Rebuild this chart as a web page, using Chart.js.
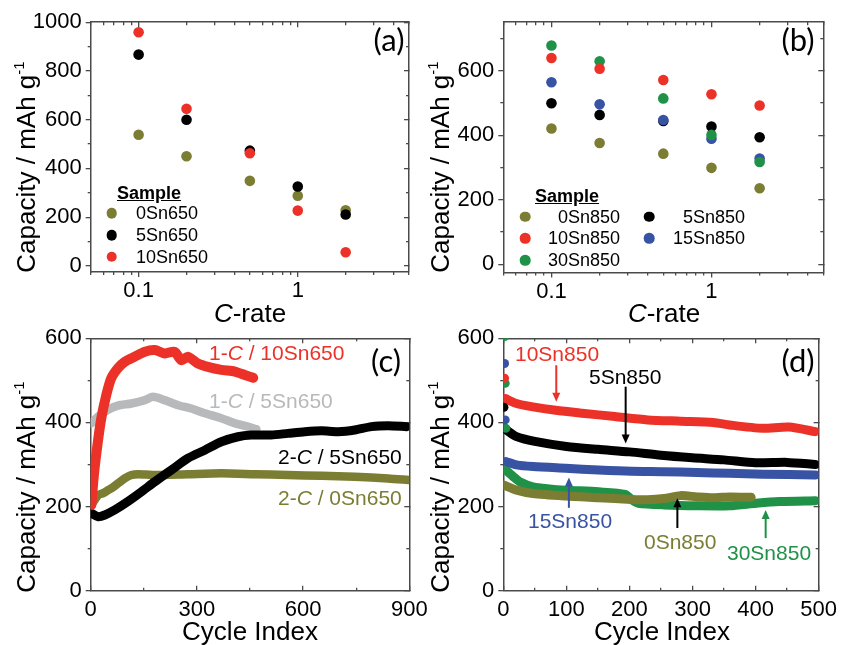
<!DOCTYPE html>
<html>
<head>
<meta charset="utf-8">
<script src="https://cdn.jsdelivr.net/npm/chart.js@4.4.1/dist/chart.umd.min.js"></script>
<style>
  body { margin: 0; background: #fff; }
  #fig { position: relative; width: 843px; height: 645px; overflow: hidden; font-family: 'Liberation Sans', Arial, sans-serif; }
  #fig canvas { position: absolute; left: 0; top: 0; }
  .t { position: absolute; white-space: nowrap; line-height: 1; }
  .ytitle { font-size: 26px; transform: translate(-50%, -50%) rotate(-90deg); }
  .ytitle sup { font-size: 15px; vertical-align: 11px; line-height: 0; }
  .xtitle { font-size: 26px; transform: translate(-50%, -50%); }
  .lab { font-family: Lato, sans-serif; font-size: 31px; transform: translate(-50%, -50%); }
  .ann { font-size: 21px; transform: translate(0, -50%); }
  .leg { font-size: 18px; transform: translate(0, -50%); }
  .legr { font-size: 18px; transform: translate(-100%, -50%); }
  .head { font-size: 18px; font-weight: bold; text-decoration: underline; transform: translate(0, -50%); }
  .dot { position: absolute; width: 10.6px; height: 10.6px; border-radius: 50%; transform: translate(-50%, -50%); }
</style>
</head>
<body>
<div id="fig">
  <canvas id="pa" width="843" height="645"></canvas>
  <canvas id="pb" width="843" height="645"></canvas>
  <canvas id="pc" width="843" height="645"></canvas>
  <canvas id="pd" width="843" height="645"></canvas>

  <!-- titulos dos eixos -->
  <div class="t ytitle" style="left:26px; top:167px;">Capacity / mAh g<sup>-1</sup></div>
  <div class="t ytitle" style="left:440px; top:167px;">Capacity / mAh g<sup>-1</sup></div>
  <div class="t ytitle" style="left:26px; top:487px;">Capacity / mAh g<sup>-1</sup></div>
  <div class="t ytitle" style="left:440px; top:487px;">Capacity / mAh g<sup>-1</sup></div>
  <div class="t xtitle" style="left:250px; top:313px;"><i>C</i>-rate</div>
  <div class="t xtitle" style="left:664px; top:313px;"><i>C</i>-rate</div>
  <div class="t xtitle" style="left:250px; top:631px;">Cycle Index</div>
  <div class="t xtitle" style="left:662px; top:631px;">Cycle Index</div>

  <!-- letras dos paineis -->
  <div class="t lab" style="left:389px; top:39px;">(a)</div>
  <div class="t lab" style="left:798px; top:39px;">(b)</div>
  <div class="t lab" style="left:386px; top:360px;">(c)</div>
  <div class="t lab" style="left:798px; top:360px;">(d)</div>

  <!-- legenda (a) -->
  <div class="t head" style="left:117px; top:193px;">Sample</div>
  <div class="dot" style="left:111.7px; top:213.3px; background:#7b7d33;"></div>
  <div class="dot" style="left:111.7px; top:235px; background:#000;"></div>
  <div class="dot" style="left:111.7px; top:256.7px; background:#ec3228;"></div>
  <div class="t leg" style="left:136px; top:213.3px;">0Sn650</div>
  <div class="t leg" style="left:136px; top:235px;">5Sn650</div>
  <div class="t leg" style="left:136px; top:256.7px;">10Sn650</div>

  <!-- legenda (b) -->
  <div class="t head" style="left:535px; top:196px;">Sample</div>
  <div class="dot" style="left:525px; top:216.7px; background:#7b7d33;"></div>
  <div class="dot" style="left:525px; top:238.3px; background:#ec3228;"></div>
  <div class="dot" style="left:525px; top:260px; background:#1f9248;"></div>
  <div class="dot" style="left:649.3px; top:216.7px; background:#000;"></div>
  <div class="dot" style="left:649.3px; top:238.3px; background:#3953a4;"></div>
  <div class="t legr" style="left:620px; top:216.7px;">0Sn850</div>
  <div class="t legr" style="left:620px; top:238.3px;">10Sn850</div>
  <div class="t legr" style="left:620px; top:260px;">30Sn850</div>
  <div class="t legr" style="left:745px; top:216.7px;">5Sn850</div>
  <div class="t legr" style="left:745px; top:238.3px;">15Sn850</div>

  <!-- rotulos (c) -->
  <div class="t ann" style="left:209px; top:352px; color:#ec3228;">1-<i>C</i> / 10Sn650</div>
  <div class="t ann" style="left:209px; top:400px; color:#b8b9bb;">1-<i>C</i> / 5Sn650</div>
  <div class="t ann" style="left:278px; top:456px; color:#000;">2-<i>C</i> / 5Sn650</div>
  <div class="t ann" style="left:278px; top:497px; color:#7b7d33;">2-<i>C</i> / 0Sn650</div>

  <!-- rotulos (d) -->
  <div class="t ann" style="left:515px; top:353px; color:#ec3228;">10Sn850</div>
  <div class="t ann" style="left:589px; top:376px; color:#000;">5Sn850</div>
  <div class="t ann" style="left:528px; top:520px; color:#3953a4;">15Sn850</div>
  <div class="t ann" style="left:644px; top:541px; color:#7b7d33;">0Sn850</div>
  <div class="t ann" style="left:727px; top:552px; color:#1f9248;">30Sn850</div>
</div>

<script>
// ---------- dados ----------
// (a) e (b): capacidade x taxa C
const cRate = [0.1, 0.2, 0.5, 1, 2];
const a0Sn650 = [538, 450, 349, 288, 228];
const a5Sn650 = [867, 600, 473, 326, 211];
const a10Sn650 = [959, 645, 462, 227, 56];

const b0Sn850 = [421, 376, 343, 299, 236];
const b5Sn850 = [499, 463, 444, 427, 394];
const b10Sn850 = [639, 606, 571, 527, 492];
const b15Sn850 = [564, 496, 447, 389, 328];
const b30Sn850 = [678, 629, 514, 401, 317];

// (c): ciclagem das amostras 650
const c10Sn650Cyc = [2, 9, 19, 30, 44, 58, 77, 96, 124, 153, 181, 209, 237, 256, 275, 303, 331, 369, 407, 435, 459];
const c10Sn650Cap = [204, 275, 346, 410, 465, 505, 529, 544, 556, 568, 572, 564, 568, 548, 556, 540, 532, 525, 521, 513, 506];
const c5Sn650aCyc = [2, 21, 49, 77, 115, 153, 176, 209, 247, 284, 322, 369, 407, 444, 468];
const c5Sn650aCap = [398, 414, 430, 440, 445, 453, 461, 453, 441, 433, 422, 410, 398, 390, 384];
const c5Sn650bCyc = [2, 21, 40, 68, 105, 143, 181, 228, 275, 322, 369, 416, 454, 510, 557, 605, 652, 699, 746, 793, 840, 892];
const c5Sn650bCap = [184, 176, 180, 192, 212, 235, 259, 287, 315, 334, 354, 366, 370, 370, 374, 378, 380, 378, 382, 390, 392, 390];
const c0Sn650Cyc = [2, 21, 35, 49, 63, 77, 96, 115, 134, 181, 275, 369, 463, 557, 652, 746, 840, 898];
const c0Sn650Cap = [204, 227, 232, 239, 246, 255, 267, 275, 277, 275, 277, 279, 277, 275, 273, 271, 267, 263];

// (d): ciclagem das amostras 850
const d10Sn850Cyc = [3, 21, 47, 83, 125, 177, 229, 281, 333, 359, 411, 453, 495];
const d10Sn850Cap = [457, 445, 437, 429, 422, 414, 406, 403, 400, 394, 386, 389, 378];
const d5Sn850Cyc = [4, 20, 50, 100, 150, 200, 250, 300, 350, 400, 450, 495];
const d5Sn850Cap = [383, 367, 355, 343, 336, 330, 322, 316, 311, 304, 305, 300];
const d15Sn850Cyc = [4, 21, 47, 99, 151, 203, 255, 307, 359, 411, 495];
const d15Sn850Cap = [307, 299, 295, 291, 287, 284, 283, 281, 279, 277, 275];
const d30Sn850Cyc = [4, 16, 26, 47, 73, 99, 151, 193, 205, 214, 255, 307, 359, 401, 438, 495];
const d30Sn850Cap = [287, 271, 259, 247, 242, 239, 235, 229, 215, 208, 204, 202, 202, 208, 212, 214];
const d0Sn850Cyc = [1, 21, 47, 99, 151, 203, 229, 255, 281, 307, 333, 359, 393];
const d0Sn850Cap = [251, 239, 231, 225, 221, 217, 216, 219, 226, 223, 221, 223, 222];
// primeiros ciclos (pontos soltos no eixo)
const dFirstRedCyc = [2], dFirstRedCap = [505];
const dFirstBlackCyc = [1], dFirstBlackCap = [436];
const dFirstBlueCyc = [2, 3], dFirstBlueCap = [540, 406];
const dFirstGreenCyc = [2, 3, 4], dFirstGreenCap = [604, 493, 386];

// setas do painel (d): posicao x, valor inicial, valor final
const arrowX = [84, 194, 104, 276, 416];
const arrowFrom = [536, 485, 197, 149, 125];
const arrowTo = [449, 350, 269, 220, 192];
const arrowColor = ['#ec3228', '#000', '#3953a4', '#000', '#1f9248'];

// marcas dos eixos
const rateMajor = [0.1, 1];
const rateMinor = [0.05, 0.06, 0.07, 0.08, 0.09, 0.2, 0.3, 0.4, 0.5, 0.6, 0.7, 0.8, 0.9, 2, 3, 4, 5];
const aYMajor = [0, 200, 400, 600, 800, 1000];
const aYMinor = [100, 300, 500, 700, 900];
const bYMajor = [0, 200, 400, 600];
const bYMinor = [100, 300, 500, 700];
const cXMajor = [0, 300, 600, 900];
const cXMinor = [150, 450, 750];
const capMajor = [0, 200, 400, 600];
const capMinor = [100, 300, 500];
const dXMajor = [0, 100, 200, 300, 400, 500];
const dXMinor = [50, 150, 250, 350, 450];

// cores
const OLIVE = '#7b7d33', RED = '#ec3228', BLACK = '#000', BLUE = '#3953a4', GREEN = '#1f9248', GRAY = '#b8b9bb';
const FRAME = '#4a4a4a';
const FONT = "'Liberation Sans', Arial, sans-serif";

Chart.defaults.animation = false;
Chart.defaults.devicePixelRatio = 1;

const pts = (xs, ys) => xs.map((x, i) => ({ x, y: ys[i] }));

// eixo com rotulos (so a borda e os numeros)
function mainAxis(pos, type, min, max, values, size, pad) {
  return {
    type, position: pos, min, max, weight: 1,
    afterBuildTicks: s => { s.ticks = values.map(v => ({ value: v })); },
    afterFit: s => { if (s.isHorizontal()) s.height = size; else s.width = size; },
    ticks: { autoSkip: false, maxRotation: 0, padding: pad, color: '#000',
      font: { family: FONT, size: 22 }, callback: v => String(v) },
    grid: { drawOnChartArea: false, drawTicks: false },
    border: { display: true, color: FRAME, width: 1.5 }
  };
}

// eixo so com tracinhos (tamanho zero); comprimento negativo = para dentro
function tickAxis(pos, type, min, max, values, len, border) {
  return {
    type, position: pos, min, max, weight: -1,
    afterBuildTicks: s => { s.ticks = values.map(v => ({ value: v })); },
    afterFit: s => { if (s.isHorizontal()) s.height = 0; else s.width = 0; },
    ticks: { display: false },
    grid: { drawOnChartArea: false, drawTicks: true, tickLength: len, color: FRAME, lineWidth: 1.3 },
    border: { display: !!border, color: FRAME, width: 1.5 }
  };
}

function montarEixos(p) {
  const yIn = p.xInward ? -1 : 1;
  return {
    x: mainAxis('bottom', p.xType, p.xMin, p.xMax, p.xMajor, 40, 6),
    xM: tickAxis('bottom', p.xType, p.xMin, p.xMax, p.xMajor, 5 * yIn),
    xm: tickAxis('bottom', p.xType, p.xMin, p.xMax, p.xMinor, 3 * yIn),
    xT: tickAxis('top', p.xType, p.xMin, p.xMax, p.xMajor, -5, true),
    xt: tickAxis('top', p.xType, p.xMin, p.xMax, p.xMinor, -3),
    y: mainAxis('left', 'linear', p.yMin, p.yMax, p.yMajor, 70, 9),
    yM: tickAxis('left', 'linear', p.yMin, p.yMax, p.yMajor, 5),
    ym: tickAxis('left', 'linear', p.yMin, p.yMax, p.yMinor, 3),
    yR: tickAxis('right', 'linear', p.yMin, p.yMax, p.yMajor, -5, true),
    yr: tickAxis('right', 'linear', p.yMin, p.yMax, p.yMinor, -3)
  };
}

// area do grafico em pixels da pagina
function areaPadding(L, T, R, B) {
  return { left: L - 70, top: T, right: 843 - R, bottom: 645 - B - 40 };
}

const semLegenda = { legend: { display: false }, tooltip: { enabled: false } };

function pontos(label, xs, ys, cor, raio) {
  return { label, data: pts(xs, ys), backgroundColor: cor, borderWidth: 0,
    pointRadius: raio || 5.3, pointBorderWidth: 0, showLine: false };
}

function faixa(label, xs, ys, cor, ordem, largura) {
  return { label, data: pts(xs, ys), borderColor: cor, backgroundColor: cor, borderWidth: largura || 8.5,
    pointRadius: 0, showLine: true, tension: 0.25, borderCapStyle: 'round', borderJoinStyle: 'round', order: ordem };
}

// desenha as setas do painel (d)
const setasPlugin = {
  id: 'setas',
  afterDatasetsDraw(chart) {
    const { ctx, scales: { x, y } } = chart;
    ctx.save();
    arrowX.forEach((ax, i) => {
      const px = x.getPixelForValue(ax);
      const y0 = y.getPixelForValue(arrowFrom[i]);
      const y1 = y.getPixelForValue(arrowTo[i]);
      const dir = Math.sign(y1 - y0);
      ctx.strokeStyle = arrowColor[i];
      ctx.fillStyle = arrowColor[i];
      ctx.lineWidth = 2;
      ctx.beginPath();
      ctx.moveTo(px, y0);
      ctx.lineTo(px, y1 - dir * 7);
      ctx.stroke();
      ctx.beginPath();
      ctx.moveTo(px, y1);
      ctx.lineTo(px - 4, y1 - dir * 9);
      ctx.lineTo(px + 4, y1 - dir * 9);
      ctx.closePath();
      ctx.fill();
    });
    ctx.restore();
  }
};

// (a)
new Chart(document.getElementById('pa'), {
  type: 'scatter',
  data: { datasets: [
    pontos('10Sn650', cRate, a10Sn650, RED),
    pontos('5Sn650', cRate, a5Sn650, BLACK),
    pontos('0Sn650', cRate, a0Sn650, OLIVE)
  ] },
  options: {
    responsive: false, layout: { padding: areaPadding(90.7, 20.7, 409, 272) },
    plugins: semLegenda,
    scales: montarEixos({ xType: 'logarithmic', xMin: 0.05, xMax: 5, xMajor: rateMajor, xMinor: rateMinor,
      yMin: -25, yMax: 1000, yMajor: aYMajor, yMinor: aYMinor })
  }
});

// (b)
new Chart(document.getElementById('pb'), {
  type: 'scatter',
  data: { datasets: [
    pontos('10Sn850', cRate, b10Sn850, RED),
    pontos('30Sn850', cRate, b30Sn850, GREEN),
    pontos('15Sn850', cRate, b15Sn850, BLUE),
    pontos('5Sn850', cRate, b5Sn850, BLACK),
    pontos('0Sn850', cRate, b0Sn850, OLIVE)
  ] },
  options: {
    responsive: false, layout: { padding: areaPadding(503.3, 21, 823.3, 272.5) },
    plugins: semLegenda,
    scales: montarEixos({ xType: 'logarithmic', xMin: 0.05, xMax: 5, xMajor: rateMajor, xMinor: rateMinor,
      yMin: -25, yMax: 750, yMajor: bYMajor, yMinor: bYMinor })
  }
});

// (c)
new Chart(document.getElementById('pc'), {
  type: 'scatter',
  data: { datasets: [
    faixa('1-C / 10Sn650', c10Sn650Cyc, c10Sn650Cap, RED, 0, 10),
    faixa('1-C / 5Sn650', c5Sn650aCyc, c5Sn650aCap, GRAY, 3, 8.5),
    faixa('2-C / 5Sn650', c5Sn650bCyc, c5Sn650bCap, BLACK, 1, 9),
    faixa('2-C / 0Sn650', c0Sn650Cyc, c0Sn650Cap, OLIVE, 2, 8.5)
  ] },
  options: {
    responsive: false, layout: { padding: areaPadding(90.7, 338.3, 409.3, 590.7) },
    plugins: semLegenda,
    scales: montarEixos({ xType: 'linear', xMin: 0, xMax: 900, xMajor: cXMajor, xMinor: cXMinor, xInward: true,
      yMin: 0, yMax: 600, yMajor: capMajor, yMinor: capMinor })
  }
});

// (d)
new Chart(document.getElementById('pd'), {
  type: 'scatter',
  data: { datasets: [
    faixa('10Sn850', d10Sn850Cyc, d10Sn850Cap, RED, 1, 9),
    faixa('5Sn850', d5Sn850Cyc, d5Sn850Cap, BLACK, 1, 9),
    faixa('15Sn850', d15Sn850Cyc, d15Sn850Cap, BLUE, 1, 9),
    faixa('0Sn850', d0Sn850Cyc, d0Sn850Cap, OLIVE, 2, 9),
    faixa('30Sn850', d30Sn850Cyc, d30Sn850Cap, GREEN, 3, 9),
    Object.assign(pontos('10Sn850 ini', dFirstRedCyc, dFirstRedCap, RED, 4.5), { order: 0 }),
    Object.assign(pontos('5Sn850 ini', dFirstBlackCyc, dFirstBlackCap, BLACK, 4.5), { order: 0 }),
    Object.assign(pontos('15Sn850 ini', dFirstBlueCyc, dFirstBlueCap, BLUE, 4.5), { order: 0 }),
    Object.assign(pontos('30Sn850 ini', dFirstGreenCyc, dFirstGreenCap, GREEN, 4.5), { order: 0 })
  ] },
  options: {
    responsive: false, layout: { padding: areaPadding(503.3, 338.3, 823.3, 590.7) },
    plugins: semLegenda,
    scales: montarEixos({ xType: 'linear', xMin: 0, xMax: 500, xMajor: dXMajor, xMinor: dXMinor, xInward: true,
      yMin: 0, yMax: 600, yMajor: capMajor, yMinor: capMinor })
  },
  plugins: [setasPlugin]
});
</script>
</body>
</html>
